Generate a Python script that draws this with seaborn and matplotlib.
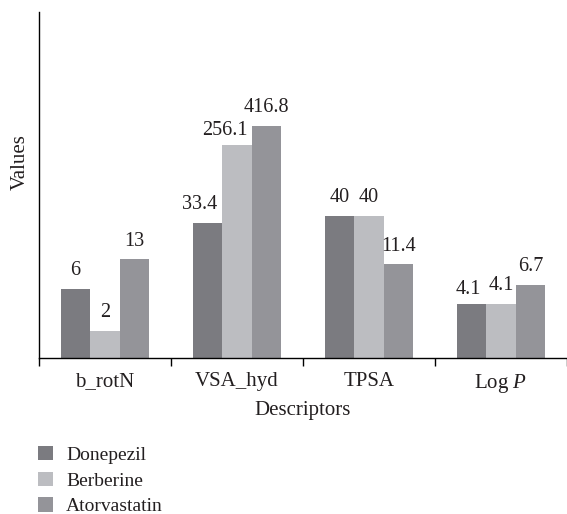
import matplotlib
matplotlib.use("Agg")
import matplotlib.pyplot as plt
import seaborn as sns
import pandas as pd
from matplotlib.ticker import FixedLocator, NullLocator

descriptors = ["b_rotN", "VSA_hyd", "TPSA", "Log $P$"]
drugs = ["Donepezil", "Berberine", "Atorvastatin"]
donepezil = [6, 33.4, 40, 4.1]
berberine = [2, 256.1, 40, 4.1]
atorvastatin = [13, 416.8, 11.4, 6.7]
colors = ["#7b7b80", "#bcbdc1", "#949499"]

rows = []
for drug, vals in zip(drugs, [donepezil, berberine, atorvastatin]):
    for d, v in zip(descriptors, vals):
        rows.append({"Descriptors": d, "Drug": drug, "Values": v})
df = pd.DataFrame(rows)

sns.set_style("white")
plt.rcParams["font.family"] = ["Liberation Serif", "DejaVu Serif"]
plt.rcParams["mathtext.fontset"] = "custom"
plt.rcParams["mathtext.rm"] = "Liberation Serif"
plt.rcParams["mathtext.it"] = "Liberation Serif:italic"
text_color = "#231f20"

fig = plt.figure(figsize=(5.67, 5.14), dpi=100)
ax = fig.add_axes([39 / 567, (514 - 358) / 514, 1 - 39 / 567, (358 - 12) / 514])

sns.barplot(data=df, x="Descriptors", y="Values", hue="Drug", order=descriptors,
            hue_order=drugs, palette=colors, width=0.67, linewidth=0,
            saturation=1, ax=ax, legend=True)
ax.set_yscale("log")
ax.set_ylim(1, 10 ** 3.91)
ax.set_xlim(-0.5, 3.5)
ax.yaxis.set_major_locator(NullLocator())
ax.yaxis.set_minor_locator(NullLocator())

# value labels (small manual nudges as in the original figure)
nudges = {("Berberine", 1): (-9, -3), ("Donepezil", 1): (-6, 0), ("Donepezil", 3): (-2, -3)}
for drug, cont in zip(drugs, ax.containers):
    for i, bar in enumerate(cont):
        v = bar.get_height()
        dx, dy = nudges.get((drug, i), (0, 0))
        ax.annotate(f"{v:g}", (bar.get_x() + bar.get_width() / 2, v),
                    xytext=(dx, 10 + dy), textcoords="offset points",
                    ha="center", va="baseline", fontsize=14.5, color=text_color)

for s in ["top", "right"]:
    ax.spines[s].set_visible(False)
for s in ["left", "bottom"]:
    ax.spines[s].set_color("black")
    ax.spines[s].set_linewidth(1.0)

ax.xaxis.set_minor_locator(FixedLocator([-0.5, 0.5, 1.5, 2.5, 3.5]))
ax.tick_params(axis="x", which="major", length=0, labelsize=15, labelcolor=text_color, pad=10)
ax.tick_params(axis="x", which="minor", length=6, width=1.0, color="black", direction="out", bottom=True)
ax.set_xlabel("")
ax.set_ylabel("")
fig.text(303 / 567, 1 - 410 / 514, "Descriptors", ha="center", va="center",
         fontsize=15, color=text_color)
fig.text(20 / 567, 1 - 162 / 514, "Values", ha="center", va="center",
         rotation=90, fontsize=15, color=text_color)

handles, labels = ax.get_legend_handles_labels()
ax.get_legend().remove()
leg = fig.legend(handles, labels, loc="upper left",
                 bbox_to_anchor=(38 / 567, 1 - 446 / 514), frameon=False,
                 fontsize=14, handlelength=0.75, handleheight=0.75,
                 handletextpad=0.7, labelspacing=0.4, borderpad=0, borderaxespad=0)
for t in leg.get_texts():
    t.set_color(text_color)

fig.savefig("out.png", dpi=100)
